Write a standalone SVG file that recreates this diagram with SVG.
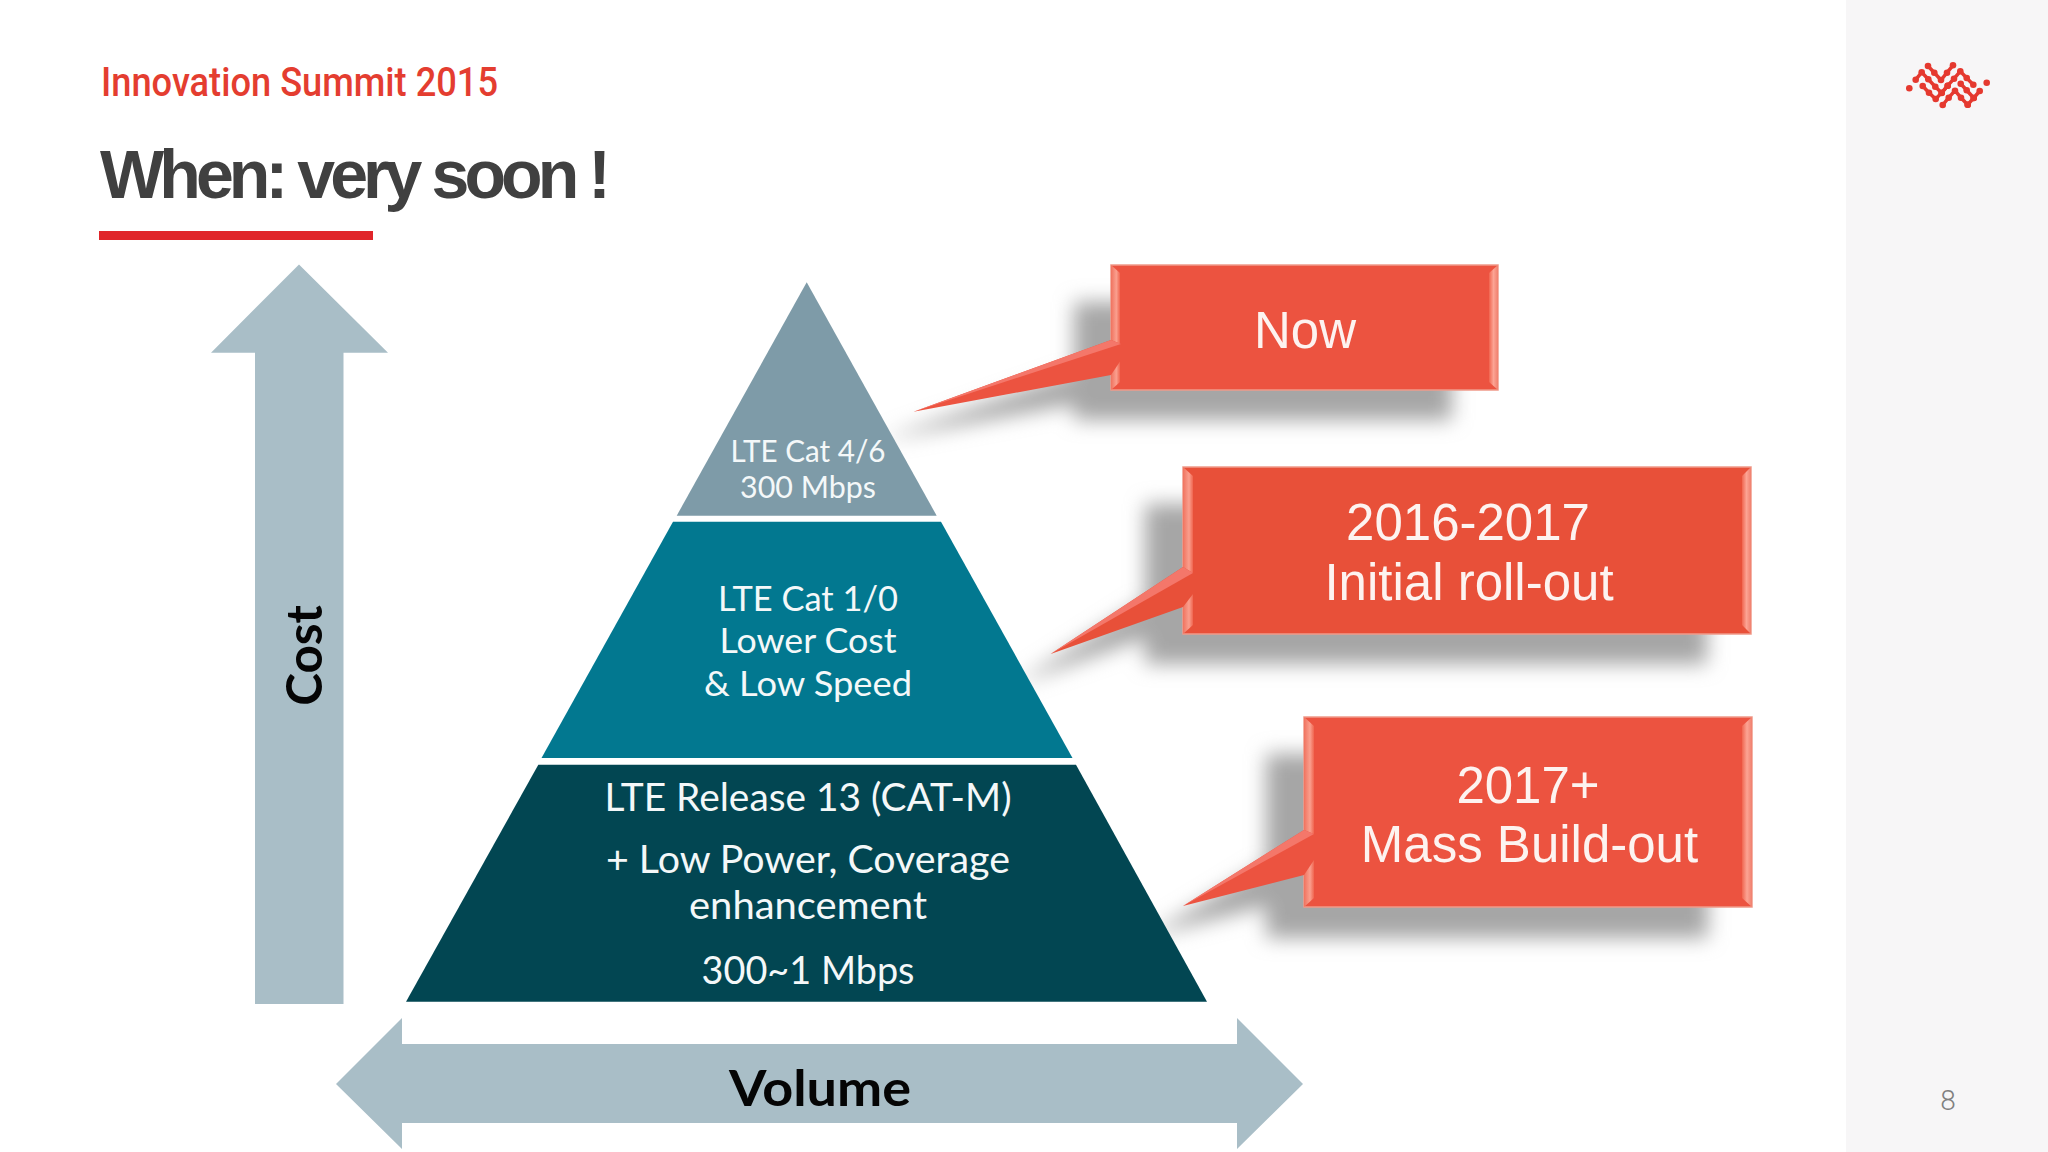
<svg xmlns="http://www.w3.org/2000/svg" width="2048" height="1152" viewBox="0 0 2048 1152">
<style>
.lato{font-family:Lato,"Open Sans",sans-serif}
.arial{font-family:"Liberation Sans",Arial,sans-serif}
.pt{font-size:30px;fill:#f4f8f9;text-anchor:middle}
.pm{font-size:34px;fill:#f4f8f9;text-anchor:middle}
.pb{font-size:38px;fill:#f4f8f9;text-anchor:middle}
.cb{font-size:51px;fill:#fdf3f0;text-anchor:middle}
.axis{fill:#a9bec7}
.bevel{fill:url(#bv)}
.bevelR{fill:url(#bvR)}
.edge{fill:#ec5340;stroke:#f09a8a;stroke-width:1.5}
.shadow{fill:#a6a6a6}
.zig{fill:none;stroke:#e5392f;stroke-width:3.5;marker-start:url(#dot);marker-mid:url(#dot);marker-end:url(#dot)}
</style>
<defs>
<linearGradient id="bv" x1="0" x2="1" y1="0" y2="0"><stop offset="0" stop-color="#f0735f"/><stop offset="0.6" stop-color="#fa9f8e"/><stop offset="1" stop-color="#f0654f"/></linearGradient>
<linearGradient id="bvR" x1="0" x2="1" y1="0" y2="0"><stop offset="0" stop-color="#f0654f"/><stop offset="0.5" stop-color="#fca494"/><stop offset="1" stop-color="#f0806e"/></linearGradient>
<filter id="blur" x="-20%" y="-30%" width="140%" height="160%"><feGaussianBlur stdDeviation="10"/></filter>
<marker id="dot" markerUnits="userSpaceOnUse" markerWidth="8" markerHeight="8" refX="4" refY="4"><circle cx="4" cy="4" r="3.3" fill="#e5392f"/></marker>
</defs>
<rect width="2048" height="1152" fill="#ffffff"/>
<rect x="1846" y="0" width="202" height="1152" fill="#f7f6f7"/>

<g id="logo" transform="translate(1860 30)">
<circle cx="49.3" cy="58.3" r="3.3" fill="#e5392f"/>
<circle cx="126.7" cy="52.7" r="3.3" fill="#e5392f"/>
<polyline class="zig" points="68,36 74.3,42.7 81,50 87,42.7 93,35.3"/>
<polyline class="zig" points="55.7,49.7 61.7,42.3 68.3,49.3 75.3,56.7 81.7,63 87.7,55.7 94,48.7 100.3,41.3 106.7,48 113.3,54.7"/>
<polyline class="zig" points="62.7,56 69,62.7 75.7,69 81.7,62.7 87.7,55.7"/>
<polyline class="zig" points="82.7,75 88.7,67.7 95,60.7 101,67.7 107.7,74.7"/>
<polyline class="zig" points="100.7,53.7 106.7,60.3 113.7,68 119.7,61"/>
<polyline class="zig" points="113.7,68 107.7,74.7"/>
</g>

<g id="header">
<text x="101" y="96" font-family="Roboto,sans-serif" font-weight="500" font-size="40" fill="#e43d30" textLength="397" lengthAdjust="spacingAndGlyphs">Innovation Summit 2015</text>
<text class="arial" x="100" y="197.5" font-size="68" font-weight="700" fill="#404040" letter-spacing="-4.9">When: very soon !</text>
<rect x="99" y="231" width="274" height="9" fill="#e0252a"/>
</g>

<g id="shadows" filter="url(#blur)">
<path class="shadow" d="M1074 302H1452V420H1074V404L880 440L1074 372Z"/>
<path class="shadow" d="M1145 504H1707V664H1145V638L1016 684L1145 601Z"/>
<path class="shadow" d="M1266 754H1708V938H1266V906L1148 936L1266 864Z"/>
</g>

<g id="cost-arrow">
<polygon class="axis" points="299,264.5 388,352.7 343.5,352.7 343.5,1004 255,1004 255,352.7 211,352.7"/>
<text class="lato" transform="translate(322.3 705.7) rotate(-90)" font-size="49" font-weight="700" fill="#050505" textLength="100.7" lengthAdjust="spacingAndGlyphs">Cost</text>
</g>

<g id="volume-arrow">
<polygon class="axis" points="336,1084 402,1018 402,1044 1237,1044 1237,1018 1303,1084 1237,1149 1237,1123 402,1123 402,1149"/>
<text class="lato" x="729" y="1106" font-size="50" font-weight="700" fill="#050505" textLength="182" lengthAdjust="spacingAndGlyphs">Volume</text>
</g>

<g id="tier-top">
<polygon points="806.7,282.3 936.7,515.7 676.7,515.7" fill="#7e9ba8"/>
<text class="lato pt" x="808" y="461.7" textLength="155" lengthAdjust="spacingAndGlyphs">LTE Cat 4/6</text>
<text class="lato pt" x="808" y="498" textLength="136" lengthAdjust="spacingAndGlyphs">300 Mbps</text>
</g>

<g id="tier-middle">
<polygon points="673,521.7 941,521.7 1072.5,758 541.5,758" fill="#027890"/>
<text class="lato pm" x="808" y="611" textLength="180" lengthAdjust="spacingAndGlyphs">LTE Cat 1/0</text>
<text class="lato pm" x="808" y="653" textLength="177" lengthAdjust="spacingAndGlyphs">Lower Cost</text>
<text class="lato pm" x="808" y="696" textLength="208" lengthAdjust="spacingAndGlyphs">&amp; Low Speed</text>
</g>

<g id="tier-bottom">
<polygon points="538.3,764.7 1076,764.7 1207,1001.7 406,1001.7" fill="#024652"/>
<text class="lato pb" x="808" y="811" textLength="407" lengthAdjust="spacingAndGlyphs">LTE Release 13 (CAT-M)</text>
<text class="lato pb" x="808" y="873" textLength="404" lengthAdjust="spacingAndGlyphs">+ Low Power, Coverage</text>
<text class="lato pb" x="808" y="919" textLength="238" lengthAdjust="spacingAndGlyphs">enhancement</text>
<text class="lato pb" x="808" y="984" textLength="213" lengthAdjust="spacingAndGlyphs">300~1 Mbps</text>
</g>

<g id="callout-now">
<rect class="edge" x="1111" y="265" width="387" height="125"/>
<polygon class="bevel" points="1111,265 1120,273 1120,382 1111,390"/>
<polygon class="bevelR" points="1498,265 1489,273 1489,382 1498,390"/>
<text class="arial cb" x="1305" y="348">Now</text>
</g>

<g id="callout-2016">
<rect class="edge" x="1183" y="467" width="568" height="167" style="fill:#e85039"/>
<polygon class="bevel" points="1183,467 1193,476 1193,625 1183,634"/>
<polygon class="bevelR" points="1751,467 1742,476 1742,625 1751,634"/>
<text class="arial cb" x="1468" y="540">2016-2017</text>
<text class="arial cb" x="1469" y="600">Initial roll-out</text>
</g>

<g id="callout-2017">
<rect class="edge" x="1304" y="717" width="448" height="190"/>
<polygon class="bevel" points="1304,717 1314,726 1314,898 1304,907"/>
<polygon class="bevelR" points="1752,717 1742,726 1742,898 1752,907"/>
<text class="arial cb" x="1528" y="802.7">2017+</text>
<text class="arial cb" x="1529.5" y="861.7">Mass Build-out</text>
</g>

<g id="connectors">
<polygon points="913.5,411.7 1111,340 1121,344 1121,360 1111,375" fill="#ec5340"/>
<polygon points="913.5,411.7 1111,340 1121,344" fill="#f4776a"/>
<polygon points="1050.6,654 1183,567 1193,573 1193,594 1183,607" fill="#e85039"/>
<polygon points="1050.6,654 1183,567 1193,573" fill="#f4776a"/>
<polygon points="1183,906 1304,830 1314,834 1314,860 1304,875" fill="#ec5340"/>
<polygon points="1183,906 1304,830 1314,834" fill="#f4776a"/>
</g>

<g id="page-number">
<text x="1948" y="1110" font-family="Roboto,sans-serif" font-weight="300" font-size="28" fill="#808080" text-anchor="middle">8</text>
</g>
</svg>
